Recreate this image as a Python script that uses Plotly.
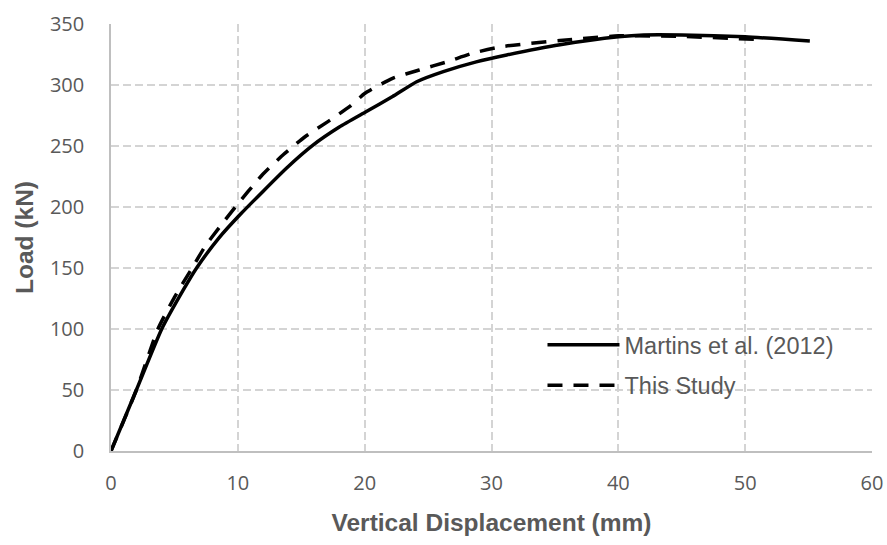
import plotly.graph_objects as go

# Martins et al. (2012) - solid
martins_x = [0, 2, 4, 5.7, 6.75, 8.5, 10.2, 12, 13.85, 15.9, 18, 20.1, 22.2, 24.1, 26.2, 28.8, 31.2, 35.4, 40, 42, 45, 50, 55.1]
martins_y = [0, 50, 100, 132, 150, 174.5, 194, 213, 232, 250.5, 265.5, 278, 290.5, 302.7, 311, 319, 324.6, 333, 339.5, 341, 341, 339.5, 336]

# This Study - dashed
study_x = [0, 2, 3.7, 5, 6.4, 7.4, 8.6, 9.8, 11.9, 13.6, 15.3, 17.1, 18.8, 20, 22.2, 24.3, 26.5, 28.5, 30.8, 35.4, 40, 45, 50.9]
study_y = [0, 50, 100, 126, 150, 167.5, 184, 200, 226, 243, 257.6, 270, 282.2, 293, 305.5, 312.3, 319, 326, 331.4, 336.5, 340.3, 339.8, 337.4]

x_ticks = [0, 10, 20, 30, 40, 50, 60]
y_ticks = [0, 50, 100, 150, 200, 250, 300, 350]

fig = go.Figure()
fig.add_trace(go.Scatter(x=martins_x, y=martins_y, mode="lines", name="Martins et al. (2012)",
                         legendgroup="a",
                         line=dict(color="black", width=3.5, shape="spline", smoothing=0.5)))
fig.add_trace(go.Scatter(x=study_x, y=study_y, mode="lines", name="This Study",
                         legendgroup="b",
                         line=dict(color="black", width=3.5, dash="15px,11px", shape="spline", smoothing=0.5)))

grid = dict(showgrid=True, gridcolor="#d4d4d4", gridwidth=1.5, griddash="8px,4px",
            zeroline=False, showline=True, linecolor="#bfbfbf", linewidth=1.5,
            automargin=False,
            tickfont=dict(family="Open Sans", size=20, color="#595959"), ticks="")

fig.update_xaxes(range=[0, 60], tickvals=x_ticks, ticklabelstandoff=13,
                 title=dict(text="Vertical Displacement (mm)", standoff=19,
                            font=dict(family="Liberation Sans", size=24.5, color="#595959", weight="bold")),
                 **grid)
fig.update_yaxes(range=[0, 350], tickvals=y_ticks, ticklabelstandoff=21,
                 title=dict(text="Load (kN)", standoff=9,
                            font=dict(family="Liberation Sans", size=24.5, color="#595959", weight="bold")),
                 **grid)

fig.update_layout(
    width=887, height=545,
    margin=dict(l=111, r=14.5, t=24, b=94),
    plot_bgcolor="white", paper_bgcolor="white",
    showlegend=True,
    legend=dict(x=0.567, y=0.3, xanchor="left", yanchor="top", bgcolor="rgba(0,0,0,0)",
                font=dict(family="Liberation Sans", size=23.5, color="#595959"),
                itemwidth=72, traceorder="grouped", tracegroupgap=7),
)

fig.write_html("out.html", config={"displayModeBar": False},
               post_script="document.body.style.margin='0';document.body.style.overflow='hidden';")
